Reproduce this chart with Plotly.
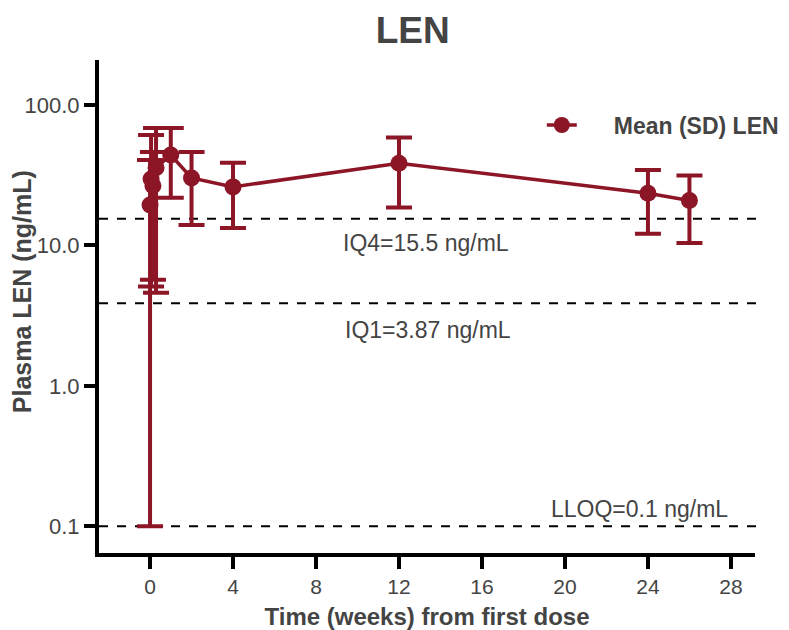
import math
import plotly.graph_objects as go

# Data
time_weeks = [0.0, 0.05, 0.14, 0.29, 1, 2, 4, 12, 24, 26]
mean_conc = [19.4, 29.7, 26.6, 35.7, 44.0, 30.2, 26.1, 38.5, 23.5, 20.9]
upper_sd = [40.6, 61.1, 46.2, 68.5, 68.5, 46.2, 38.8, 58.6, 34.4, 31.4]
lower_sd = [0.1, 5.1, 5.7, 4.6, 21.8, 14.0, 13.3, 18.6, 12.1, 10.4]

ref_names = ["IQ4=15.5 ng/mL", "IQ1=3.87 ng/mL", "LLOQ=0.1 ng/mL"]
ref_values = [15.5, 3.87, 0.1]

x_ticks = [0, 4, 8, 12, 16, 20, 24, 28]
y_ticks = [0.1, 1, 10, 100]
y_ticktext = ["0.1", "1.0", "10.0", "100.0"]

# label placement (styling)
label_x = [13.3, 13.4, 23.6]
label_shift = [-24, -27, 17]

color = "#8C1526"
textcol = "#444444"
FONT = "Liberation Sans, Arial"

err_plus = [u - m for u, m in zip(upper_sd, mean_conc)]
err_minus = [m - l for m, l in zip(mean_conc, lower_sd)]

fig = go.Figure()
fig.add_trace(go.Scatter(
    x=time_weeks, y=mean_conc, mode="lines+markers",
    name="&nbsp;&nbsp;&nbsp;&nbsp;&nbsp;<b>Mean (SD) LEN</b>",
    line=dict(color=color, width=3.5),
    marker=dict(color=color, size=17),
    error_y=dict(type="data", symmetric=False, array=err_plus, arrayminus=err_minus,
                 color=color, thickness=4, width=13),
))

for v in ref_values:
    fig.add_shape(type="line", xref="paper", x0=0, x1=1.01, yref="y",
                  y0=v, y1=v,
                  line=dict(color="black", width=2, dash="dash"), layer="below")

for name, v, lx, sh in zip(ref_names, ref_values, label_x, label_shift):
    fig.add_annotation(x=lx, y=math.log10(v), text=name, showarrow=False,
                       yshift=sh, font=dict(size=23, color=textcol, family=FONT))

# y-axis title as rotated text
fig.add_annotation(xref="paper", yref="paper", x=-0.1174, y=0.531, xanchor="center",
                   yanchor="middle", textangle=-90, showarrow=False,
                   text="<b>Plasma LEN (ng/mL)</b>",
                   font=dict(size=25, color=textcol, family=FONT))

fig.update_layout(
    width=789, height=630,
    margin=dict(l=99, r=34, t=60, b=77, autoexpand=False),
    paper_bgcolor="white", plot_bgcolor="white",
    font=dict(family=FONT, color=textcol),
    title=dict(text="<b>LEN</b>", x=0.523, xanchor="center", y=0.953, yanchor="middle",
               font=dict(size=37, color=textcol)),
    showlegend=True,
    legend=dict(x=0.675, y=0.868, xanchor="left", yanchor="middle", bgcolor="rgba(0,0,0,0)",
                font=dict(size=23, color=textcol)),
    xaxis=dict(range=[-2.46, 29.16], tickvals=x_ticks, showgrid=False, zeroline=False,
               showline=True, linecolor="black", linewidth=4, automargin=False,
               ticks="outside", ticklen=12, tickwidth=4, tickcolor="black",
               tickfont=dict(size=21, color=textcol),
               title=dict(text="<b>Time (weeks) from first dose</b>",
                          font=dict(size=24, color=textcol), standoff=12)),
    yaxis=dict(type="log", range=[-1.19, 2.32], tickvals=y_ticks, ticktext=y_ticktext,
               showgrid=False, zeroline=False, showline=True, linecolor="black", linewidth=4,
               automargin=False,
               ticks="outside", ticklen=11, tickwidth=4, tickcolor="black",
               tickfont=dict(size=22, color=textcol)),
)

fig.write_html("out.html")
